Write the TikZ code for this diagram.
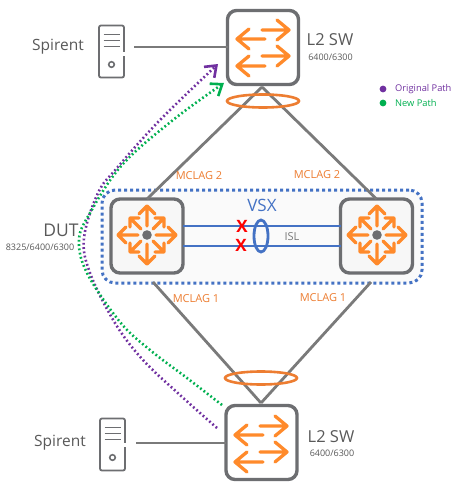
\documentclass[tikz,border=0pt]{standalone}
\usepackage{fontspec}
\setmainfont{Open Sans}
\usetikzlibrary{arrows.meta,shapes.geometric}
\definecolor{boxgray}{HTML}{6D6E71}
\definecolor{linkgray}{HTML}{7A7A7A}
\definecolor{txtgray}{HTML}{595959}
\definecolor{hporange}{HTML}{FF8A2B}
\definecolor{lagorange}{HTML}{ED7D31}
\definecolor{vsxblue}{HTML}{4472C4}
\definecolor{pathpurple}{HTML}{7030A0}
\definecolor{pathgreen}{HTML}{00B050}
\tikzset{
  x=1pt,y=-1pt,
  switchbox/.style={draw=boxgray,line width=3.4pt,rounded corners=9pt,minimum width=71pt,minimum height=74pt,inner sep=0pt,outer sep=0pt},
  corebox/.style={draw=boxgray,line width=3.4pt,rounded corners=9pt,fill=white!97!black,minimum width=72pt,minimum height=74pt,inner sep=0pt,outer sep=0pt},
  serverbox/.style={draw=boxgray,line width=1.8pt,rounded corners=2pt,minimum width=25pt,minimum height=52pt,inner sep=0pt,outer sep=0pt},
  link/.style={draw=linkgray,line width=2.8pt},
  isl/.style={draw=vsxblue,line width=2.8pt},
  glyph/.style={draw=hporange,line width=3.3pt,line cap=round,line join=round},
  lag/.style={draw=lagorange,line width=2.6pt},
  flow/.style={line width=2.6pt,dash pattern=on 1.8pt off 2.5pt},
  lagtxt/.style={inner sep=0pt,text=lagorange,font=\fontsize{11}{13}\selectfont},
  subtxt/.style={inner sep=0pt,text=txtgray,font=\fontsize{9}{11}\selectfont},
  bigtxt/.style={inner sep=0pt,text=txtgray,font=\fontsize{15.5}{18}\selectfont},
  pics/swglyph/.style={code={
    \draw[glyph] (-1,-17) -- (26,-17) (14,-27) -- (26,-17) -- (14,-7);
    \draw[glyph] (2,-8) -- (-26,-8) (-14,-18) -- (-26,-8) -- (-14,2);
    \draw[glyph] (-1,9) -- (26,9) (14,-1) -- (26,9) -- (14,19);
    \draw[glyph] (2,19) -- (-26,19) (-14,9) -- (-26,19) -- (-14,29);
  }},
  pics/coreglyph/.style={code={
    \foreach \a in {0,90,180,270}{
      \begin{scope}[rotate=\a]
        \draw[glyph] (9,0) -- (29,0) (21,-8) -- (29,0) -- (21,8);
        \draw[glyph] (6,-6) -- (17,-17) (8,-17) -- (17,-17) -- (17,-8);
      \end{scope}
    }
    \fill[boxgray] (0,0) circle (4.8);
  }},
  pics/srvglyph/.style={code={
    \draw[boxgray,line width=1.8pt] (-8,-17) -- (8,-17) (-8,-11) -- (8,-11) (-8,-5) -- (8,-5);
    \draw[boxgray,line width=1.6pt] (0,13) circle (2.8);
  }},
}
\begin{document}
\begin{tikzpicture}
\useasboundingbox (0,0) rectangle (468,491);
\fill[white] (0,0) rectangle (468,491);

% VSX domain
\node[draw=vsxblue,fill=white!98!black,line width=3pt,dash pattern=on 3pt off 3pt,rounded corners=13pt,minimum width=320pt,minimum height=93pt,inner sep=0pt] (vsx) at (262,236.5) {};

% switches and servers
\node[switchbox] (top) at (263,47.5) {};
\node[switchbox] (bot) at (261.5,442.5) {};
\node[corebox] (coreL) at (147,236) {};
\node[corebox] (coreR) at (376.5,236) {};
\node[serverbox] (srvT) at (111.5,51.5) {};
\node[serverbox] (srvB) at (112.5,444.5) {};
\fill[white] (122.5,52) rectangle (126,55.5);
\fill[white] (123.5,443) rectangle (127,447);
\pic at (111.5,51.5) {srvglyph};
\pic at (112.5,444.5) {srvglyph};
\pic at (263,47) {swglyph};
\pic at (261,443) {swglyph};
\pic at (147,235) {coreglyph};
\pic at (377,235) {coreglyph};

% links
\coordinate (apexT) at (262,87);
\coordinate (apexB) at (261,403);
\coordinate (footL) at (153,282);
\coordinate (footR) at (371,282);
\coordinate (srvTr) at (134,47);
\coordinate (srvBr) at (136,443);
\draw[link] (srvTr) -- (srvTr -| top.west);
\draw[link] (srvBr) -- (srvBr -| bot.west);
\draw[link] (apexT) -- (coreL.north);
\draw[link] (apexT) -- (coreR.north);
\draw[link] (apexB) -- (footL);
\draw[link] (apexB) -- (footR);

% ISL
\draw[isl] ([yshift=10pt]coreL.east) -- ([yshift=10pt]coreR.west);
\draw[isl] ([yshift=-10pt]coreL.east) -- ([yshift=-10pt]coreR.west);
\node[draw=vsxblue,line width=2.8pt,shape=ellipse,minimum width=14pt,minimum height=32pt,inner sep=0pt] (islring) at (261,236) {};
\node[inner sep=0pt,text=red,font=\fontsize{17}{19}\bfseries\selectfont] (xa) at (242,226.5) {X};
\node[inner sep=0pt,text=red,font=\fontsize{17}{19}\bfseries\selectfont] (xb) at (241,245) {X};

% LAG rings
\node[lag,shape=ellipse,minimum width=72pt,minimum height=13pt,inner sep=0pt] (lagT) at (263,101) {};
\node[lag,shape=ellipse,minimum width=72pt,minimum height=13pt,inner sep=0pt] (lagB) at (261,378) {};

% flows
\draw[flow,draw=pathpurple,-{Straight Barb[length=10pt,width=15pt,line width=2.6pt]}]
  plot[smooth,tension=0.6] coordinates {(217,428) (180,395) (143,360) (115,323) (90,273) (84,238) (98,193) (117,168) (160,120) (218,64)};
\draw[flow,draw=pathgreen,-{Straight Barb[length=10pt,width=15pt,line width=2.6pt]}]
  plot[smooth,tension=0.6] coordinates {(222,405) (187,378) (150,350) (120,322) (87,273) (79,240) (90,213) (122,165) (173,120) (224,83)};

% legend
\fill[pathpurple] (383,89) circle (3.4);
\fill[pathgreen] (383,103) circle (3.4);
\node[inner sep=0pt,anchor=west,text=pathpurple,font=\fontsize{9.3}{11}\selectfont] (lgA) at (395,89) {Original Path};
\node[inner sep=0pt,anchor=west,text=pathgreen,font=\fontsize{9.3}{11}\selectfont] (lgB) at (395,103) {New Path};

% labels
\node[bigtxt] (sa) at (58,47) {Spirent};
\node[bigtxt] (sb) at (60,443) {Spirent};
\node[bigtxt,font=\fontsize{16.5}{19}\selectfont] (l2a) at (330,40) {L2 SW};
\node[subtxt] (l2as) at (330.5,57) {6400/6300};
\node[bigtxt,font=\fontsize{16.5}{19}\selectfont] (l2b) at (331,437) {L2 SW};
\node[subtxt] (l2bs) at (332,453.5) {6400/6300};
\node[bigtxt,font=\fontsize{17.5}{20}\selectfont] (dut) at (61,230) {DUT};
\node[subtxt] (duts) at (40,247) {8325/6400/6300};
\node[inner sep=0pt,text=vsxblue,font=\fontsize{17}{20}\selectfont] (vsxt) at (262,205) {VSX};
\node[inner sep=0pt,text=linkgray,font=\fontsize{11}{13}\selectfont] (islt) at (292,237) {ISL};
\node[lagtxt] (m2a) at (199,176) {MCLAG 2};
\node[lagtxt] (m2b) at (317,175) {MCLAG 2};
\node[lagtxt] (m1a) at (196,299) {MCLAG 1};
\node[lagtxt] (m1b) at (323,298) {MCLAG 1};
\end{tikzpicture}
\end{document}
